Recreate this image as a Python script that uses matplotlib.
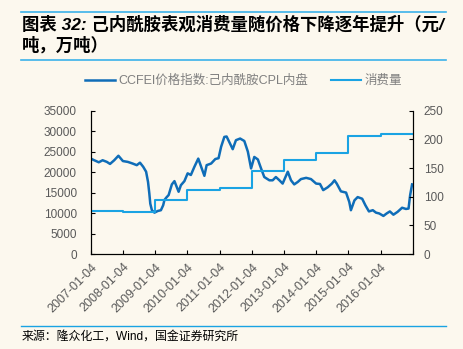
import numpy as np
import matplotlib
matplotlib.use("Agg")
import matplotlib.pyplot as plt
from matplotlib.lines import Line2D

plt.rcParams['font.family'] = ['Liberation Sans', 'Noto Sans CJK SC', 'DejaVu Sans']

# CCFEI price index, CPL domestic (yuan/t), x in decimal years
price_years = [2007.0, 2007.11, 2007.25, 2007.37, 2007.5, 2007.6, 2007.73, 2007.86,
               2008.0, 2008.15, 2008.3, 2008.43, 2008.53, 2008.63, 2008.72, 2008.78,
               2008.82, 2008.85, 2008.9, 2008.98, 2009.08, 2009.18, 2009.25, 2009.29,
               2009.35, 2009.42, 2009.52, 2009.6, 2009.67, 2009.73, 2009.8, 2009.91,
               2010.01, 2010.11, 2010.22, 2010.34, 2010.43, 2010.53, 2010.6, 2010.74,
               2010.87, 2010.97, 2011.05, 2011.15, 2011.22, 2011.3, 2011.41, 2011.51,
               2011.64, 2011.77, 2011.88, 2011.98, 2012.08, 2012.19, 2012.29, 2012.39,
               2012.55, 2012.65, 2012.75, 2012.86, 2012.96, 2013.12, 2013.22, 2013.32,
               2013.43, 2013.53, 2013.69, 2013.84, 2014.0, 2014.12, 2014.22, 2014.36,
               2014.49, 2014.57, 2014.64, 2014.77, 2014.93, 2015.03, 2015.08, 2015.19,
               2015.29, 2015.43, 2015.53, 2015.64, 2015.76, 2015.86, 2015.96, 2016.09,
               2016.19, 2016.29, 2016.4, 2016.53, 2016.67, 2016.79, 2016.87, 2016.92,
               2016.98]
price = [23300, 22900, 22400, 22900, 22500, 22000, 22900, 24000,
         22700, 22500, 22100, 21700, 22300, 21300, 20100, 17600,
         14800, 12300, 10700, 10100, 10500, 10700, 11900, 13200,
         13800, 14400, 17000, 17800, 16400, 15200, 16800, 17800,
         19700, 19300, 21300, 23300, 21300, 19100, 21700, 22100,
         23200, 23400, 26200, 28600, 28700, 27400, 25600, 27800,
         28200, 27600, 25000, 20900, 23700, 23100, 20900, 18800,
         18000, 18000, 18800, 18000, 17200, 20100, 18000, 17000,
         17600, 18300, 18600, 18300, 17200, 17100, 15600, 16300,
         17200, 18000, 17200, 15300, 15000, 12700, 10700, 13100,
         13900, 13500, 11900, 10400, 10700, 10100, 9900, 9300,
         9900, 10400, 9600, 10300, 11300, 11000, 11100, 14400,
         17000]

# apparent consumption (10k t), one value per year
cons_years = [2007, 2008, 2009, 2010, 2011, 2012, 2013, 2014, 2015, 2016]
consumption = [75, 73, 94, 112, 115, 145, 164, 176, 205, 209]

tick_years = [2007, 2008, 2009, 2010, 2011, 2012, 2013, 2014, 2015, 2016, 2017]
tick_labels = ['2007-01-04', '2008-01-04', '2009-01-04', '2010-01-04', '2011-01-04',
               '2012-01-04', '2013-01-04', '2014-01-04', '2015-01-04', '2016-01-04', '']

bg = '#FCF8EE'
dark_blue = '#0F6DB8'
light_blue = '#1AA3E3'
grey = '#595959'

fig = plt.figure(figsize=(4.64, 3.49), dpi=100, facecolor=bg)
ax = fig.add_axes([0.1955, 0.2722, 0.694, 0.4106])
ax.set_facecolor(bg)
ax2 = ax.twinx()

ax.plot(price_years, price, color=dark_blue, lw=1.8)
ax2.plot(cons_years + [2017], consumption + [consumption[-1]],
         drawstyle='steps-post', color=light_blue, lw=1.5)

ax.set_xlim(2007, 2017)
ax.set_ylim(0, 35000)
ax2.set_ylim(0, 250)
ax.set_yticks(np.arange(0, 35001, 5000))
ax2.set_yticks(np.arange(0, 251, 50))
ax.set_xticks(tick_years)
ax.set_xticklabels(tick_labels, rotation=45, ha='right', rotation_mode='anchor')

for a in (ax, ax2):
    a.spines['top'].set_visible(False)
    for s in ('left', 'right', 'bottom'):
        a.spines[s].set_color('black')
        a.spines[s].set_linewidth(0.8)
    a.tick_params(direction='in', length=3, width=0.8, labelsize=8.5,
                  labelcolor=grey)
ax.tick_params(axis='y', pad=10)
ax2.tick_params(axis='y', pad=8)
ax.tick_params(axis='x', pad=5, labelsize=9)

handles = [Line2D([], [], color=dark_blue, lw=1.8),
           Line2D([], [], color=light_blue, lw=1.5)]
leg = fig.legend(handles, ['CCFEI价格指数:己内酰胺CPL内盘', '消费量'],
                 loc='center', bbox_to_anchor=(0.525, 1 - 81 / 349), ncol=2,
                 frameon=False, fontsize=9, handlelength=2.4, columnspacing=1.8,
                 handletextpad=0.3)
for t in leg.get_texts():
    t.set_color('#7F7F7F')

# title block
fig.add_artist(Line2D([21 / 464, 446 / 464], [1 - 12 / 349] * 2, color='#3BB2EA', lw=1.2))
fig.add_artist(Line2D([21 / 464, 446 / 464], [1 - 60 / 349] * 2, color='#3BB2EA', lw=1.2))
t1 = fig.text(22 / 464, 1 - 24 / 349, '图表 32: 己内酰胺表观消费量随价格下降逐年提升（元/',
              fontsize=12.5, fontweight='bold', fontstyle='italic', va='center', ha='left')
t1.set_clip_path(plt.Rectangle((0, 0), 446 / 464, 1, transform=fig.transFigure))
fig.text(22 / 464, 1 - 45 / 349, '吨，万吨）', fontsize=12.5, fontweight='bold',
         fontstyle='italic', va='center', ha='left')

# source
fig.add_artist(Line2D([21 / 464, 446 / 464], [1 - 326 / 349] * 2, color='#1AA3E3', lw=1.0))
fig.text(22 / 464, 1 - 337 / 349, '来源：隆众化工，Wind，国金证券研究所', fontsize=8.6,
         va='center', ha='left', color='black')

fig.savefig('out.png', dpi=100, facecolor=bg)
